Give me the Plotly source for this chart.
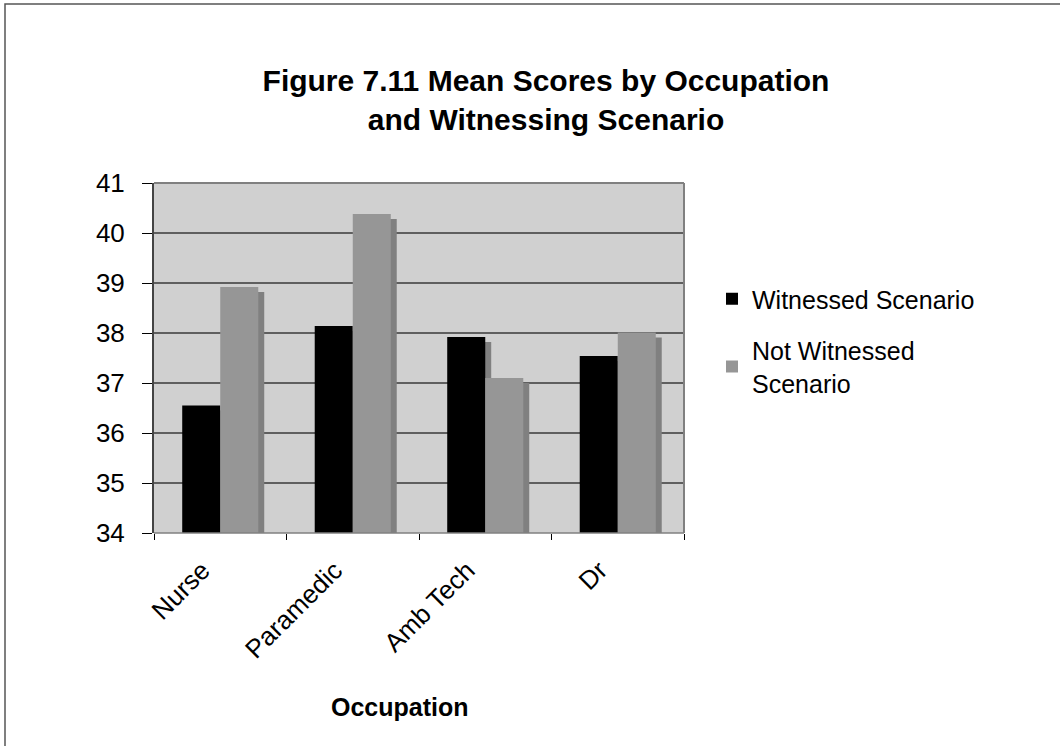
import plotly.graph_objects as go

categories = ["Nurse", "Paramedic", "Amb Tech", "Dr"]
witnessed = [36.55, 38.14, 37.92, 37.54]
not_witnessed = [38.92, 40.38, 37.10, 38.01]
y_ticks = [34, 35, 36, 37, 38, 39, 40, 41]

FONT = "Arial, Liberation Sans, sans-serif"
BAR_W = 0.287          # width of one bar, in category units
SH_DX = 0.045          # shadow horizontal shift, category units
SH_DY = 0.1            # shadow vertical drop, data units

fig = go.Figure()

fig.add_trace(go.Bar(x=categories, y=[v - SH_DY for v in witnessed],
                     offset=-BAR_W + SH_DX, width=BAR_W, marker=dict(color="#808080", line=dict(width=0)),
                     showlegend=False, hoverinfo="skip"))
fig.add_trace(go.Bar(x=categories, y=witnessed, name="Witnessed Scenario", legendgroup="a",
                     offset=-BAR_W, width=BAR_W, marker=dict(color="#000000", line=dict(width=0))))
fig.add_trace(go.Bar(x=categories, y=[v - SH_DY for v in not_witnessed],
                     offset=SH_DX, width=BAR_W, marker=dict(color="#808080", line=dict(width=0)),
                     showlegend=False, hoverinfo="skip"))
fig.add_trace(go.Bar(x=categories, y=not_witnessed, name="Not Witnessed<br>Scenario", legendgroup="b",
                     offset=0, width=BAR_W, marker=dict(color="#969696", line=dict(width=0))))

W, H = 1060, 746
L, R, T, B = 154, 684, 183, 533


def px_x(p):
    return (p - L) / (R - L)


def px_y(p):
    return (B - p) / (B - T)


shapes = [
    dict(type="line", xref="paper", yref="paper", x0=0, x1=1, y0=1, y1=1,
         line=dict(color="#808080", width=2)),
    dict(type="line", xref="paper", yref="paper", x0=1, x1=1, y0=0, y1=1,
         line=dict(color="#808080", width=2)),
    dict(type="line", xref="paper", yref="paper", x0=0, x1=1, y0=0, y1=0,
         line=dict(color="#808080", width=1.5)),
    dict(type="rect", xref="paper", yref="paper", x0=px_x(5), x1=px_x(1075),
         y0=px_y(760), y1=px_y(4), line=dict(color="#555555", width=1.5), layer="below"),
]

fig.update_layout(
    width=W, height=H,
    margin=dict(l=L, r=W - R, t=T, b=H - B),
    barmode="overlay",
    paper_bgcolor="white",
    plot_bgcolor="#D0D0D0",
    font=dict(family=FONT, size=25, color="black"),
    title=dict(text="<b>Figure 7.11 Mean Scores by Occupation<br>and Witnessing Scenario</b>",
               x=546 / W, xanchor="center", y=1 - 91 / H, yanchor="middle",
               font=dict(family=FONT, size=30, color="black")),
    xaxis=dict(type="category", range=[-0.5, 3.5], tickson="boundaries",
               ticks="outside", ticklen=6, tickcolor="black", tickwidth=1,
               tickangle=-45, showline=False, showgrid=False,
               ticklabelstandoff=16, ticklabelshift=-18,
               tickfont=dict(family=FONT, size=26)),
    yaxis=dict(range=[34, 41], tickvals=y_ticks, ticks="outside", ticklen=10,
               tickcolor="black", tickwidth=1, showline=True, linecolor="#444444",
               linewidth=2, showgrid=True, gridcolor="#5f5f5f", gridwidth=1.5,
               zeroline=False, ticklabelstandoff=12,
               tickfont=dict(family=FONT, size=26)),
    legend=dict(x=px_x(712), xanchor="left", y=px_y(276), yanchor="top",
                font=dict(family=FONT, size=25), traceorder="grouped",
                tracegroupgap=16, bgcolor="rgba(0,0,0,0)", itemwidth=30),
    shapes=shapes,
    annotations=[dict(text="<b>Occupation</b>", xref="paper", yref="paper",
                      x=px_x(400), y=px_y(707), xanchor="center", yanchor="middle",
                      showarrow=False, font=dict(family=FONT, size=25, color="black"))],
)

fig.write_html("out.html", config={"displayModeBar": False},
               post_script="document.body.style.margin='0';")
